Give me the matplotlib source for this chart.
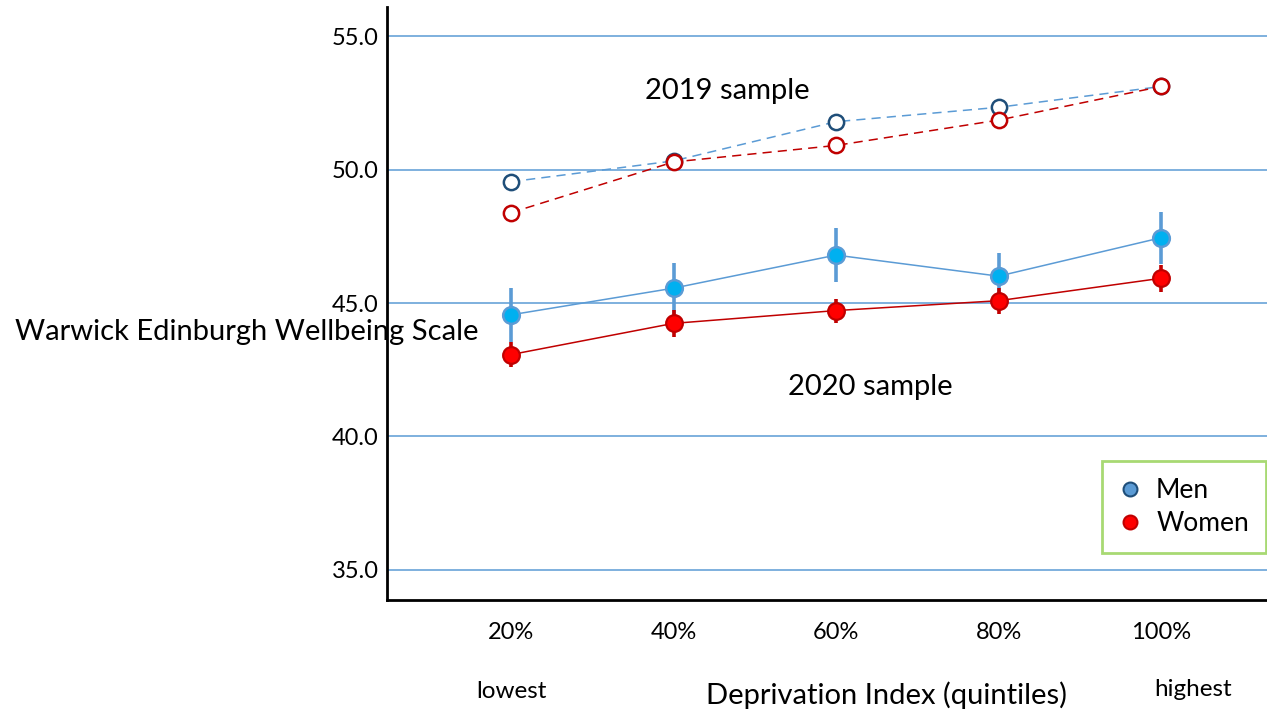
import matplotlib
matplotlib.use("Agg")
import matplotlib.pyplot as plt
from matplotlib.lines import Line2D
from matplotlib.transforms import blended_transform_factory

plt.rcParams['font.family'] = ['Lato', 'DejaVu Sans']

# ---- data ----
categories = ["20%", "40%", "60%", "80%", "100%"]
men_2019 = [49.55, 50.33, 51.80, 52.34, 53.12]
women_2019 = [48.39, 50.29, 50.91, 51.86, 53.12]
men_2020 = [44.56, 45.56, 46.80, 46.01, 47.45]
men_2020_err = [1.02, 0.95, 1.00, 0.88, 0.98]
women_2020 = [43.07, 44.24, 44.72, 45.09, 45.93]
women_2020_err = [0.48, 0.50, 0.45, 0.49, 0.51]
yticks = [35.0, 40.0, 45.0, 50.0, 55.0]

BLUE = "#5B9BD5"
DARKBLUE = "#1F4E79"
CYAN = "#00B0F0"
DARKRED = "#C00000"
RED = "#FF0000"

fig = plt.figure(figsize=(12.67, 7.16), dpi=100)
ax = fig.add_axes([387/1267, 1-600/716, 1-387/1267, (600-7)/716])

x = list(range(len(categories)))

# gridlines
for yv in yticks:
    ax.axhline(yv, color=BLUE, lw=1.1, zorder=0)

# 2019 sample (dashed, open markers)
ax.plot(x, men_2019, ls=(0, (6, 4)), color=BLUE, lw=1.1, zorder=2)
ax.plot(x, men_2019, ls='none', marker='o', ms=11, mfc='white', mec=DARKBLUE, mew=1.8, zorder=3)
ax.plot(x, women_2019, ls=(0, (6, 4)), color=DARKRED, lw=1.1, zorder=2)
ax.plot(x, women_2019, ls='none', marker='o', ms=11, mfc='white', mec=DARKRED, mew=1.8, zorder=3)

# 2020 sample (solid, filled markers, error bars)
ax.errorbar(x, men_2020, yerr=men_2020_err, fmt='none', ecolor=BLUE, elinewidth=2.6, capsize=0, zorder=2)
ax.plot(x, men_2020, '-', color=BLUE, lw=1.1, zorder=2)
ax.plot(x, men_2020, ls='none', marker='o', ms=12, mfc=CYAN, mec=BLUE, mew=1.8, zorder=3)
ax.errorbar(x, women_2020, yerr=women_2020_err, fmt='none', ecolor=DARKRED, elinewidth=2.6, capsize=0, zorder=2)
ax.plot(x, women_2020, '-', color=DARKRED, lw=1.1, zorder=4)
ax.plot(x, women_2020, ls='none', marker='o', ms=12, mfc=RED, mec=DARKRED, mew=1.6, zorder=5)

ax.set_xlim(-0.763, 4.652)
ax.set_ylim(33.87, 56.1)
ax.set_yticks(yticks)
ax.set_yticklabels([f"{v:.1f}" for v in yticks], fontsize=17)
ax.set_xticks(x)
ax.set_xticklabels(categories, fontsize=17)
ax.tick_params(axis='both', length=0)
ax.tick_params(axis='y', pad=6)
ax.tick_params(axis='x', pad=16)

for s in ['top', 'right']:
    ax.spines[s].set_visible(False)
for s in ['left', 'bottom']:
    ax.spines[s].set_linewidth(2)
    ax.spines[s].set_color('black')

# annotations
ax.text(1.33, 52.96, "2019 sample", fontsize=21, ha='center', va='center')
ax.text(2.21, 41.85, "2020 sample", fontsize=21, ha='center', va='center')

fig.text(15/1267, 1-332/716, "Warwick Edinburgh Wellbeing Scale", fontsize=21, ha='left', va='center')
fig.text(886/1267, 1-695/716, "Deprivation Index (quintiles)", fontsize=21, ha='center', va='center')
tr = blended_transform_factory(ax.transData, fig.transFigure)
ax.text(0, 1-692/716, "lowest", fontsize=17.5, ha='center', va='center', transform=tr)
ax.text(4.2, 1-690/716, "highest", fontsize=17.5, ha='center', va='center', transform=tr)

# legend
handles = [
    Line2D([], [], ls='none', marker='o', ms=10, mfc=BLUE, mec=DARKBLUE, mew=1.5, label='Men'),
    Line2D([], [], ls='none', marker='o', ms=10, mfc=RED, mec=DARKRED, mew=1.5, label='Women'),
]
leg = ax.legend(handles=handles, loc='upper left', bbox_to_anchor=((1102-387)/880, (600-461)/593),
                fontsize=19, frameon=True, fancybox=False, handletextpad=0.6,
                borderpad=0.65, labelspacing=0.3, handlelength=0.8, borderaxespad=0)
leg.get_frame().set_edgecolor('#92D050')
leg.get_frame().set_linewidth(2)

fig.savefig("out.png", dpi=100)
